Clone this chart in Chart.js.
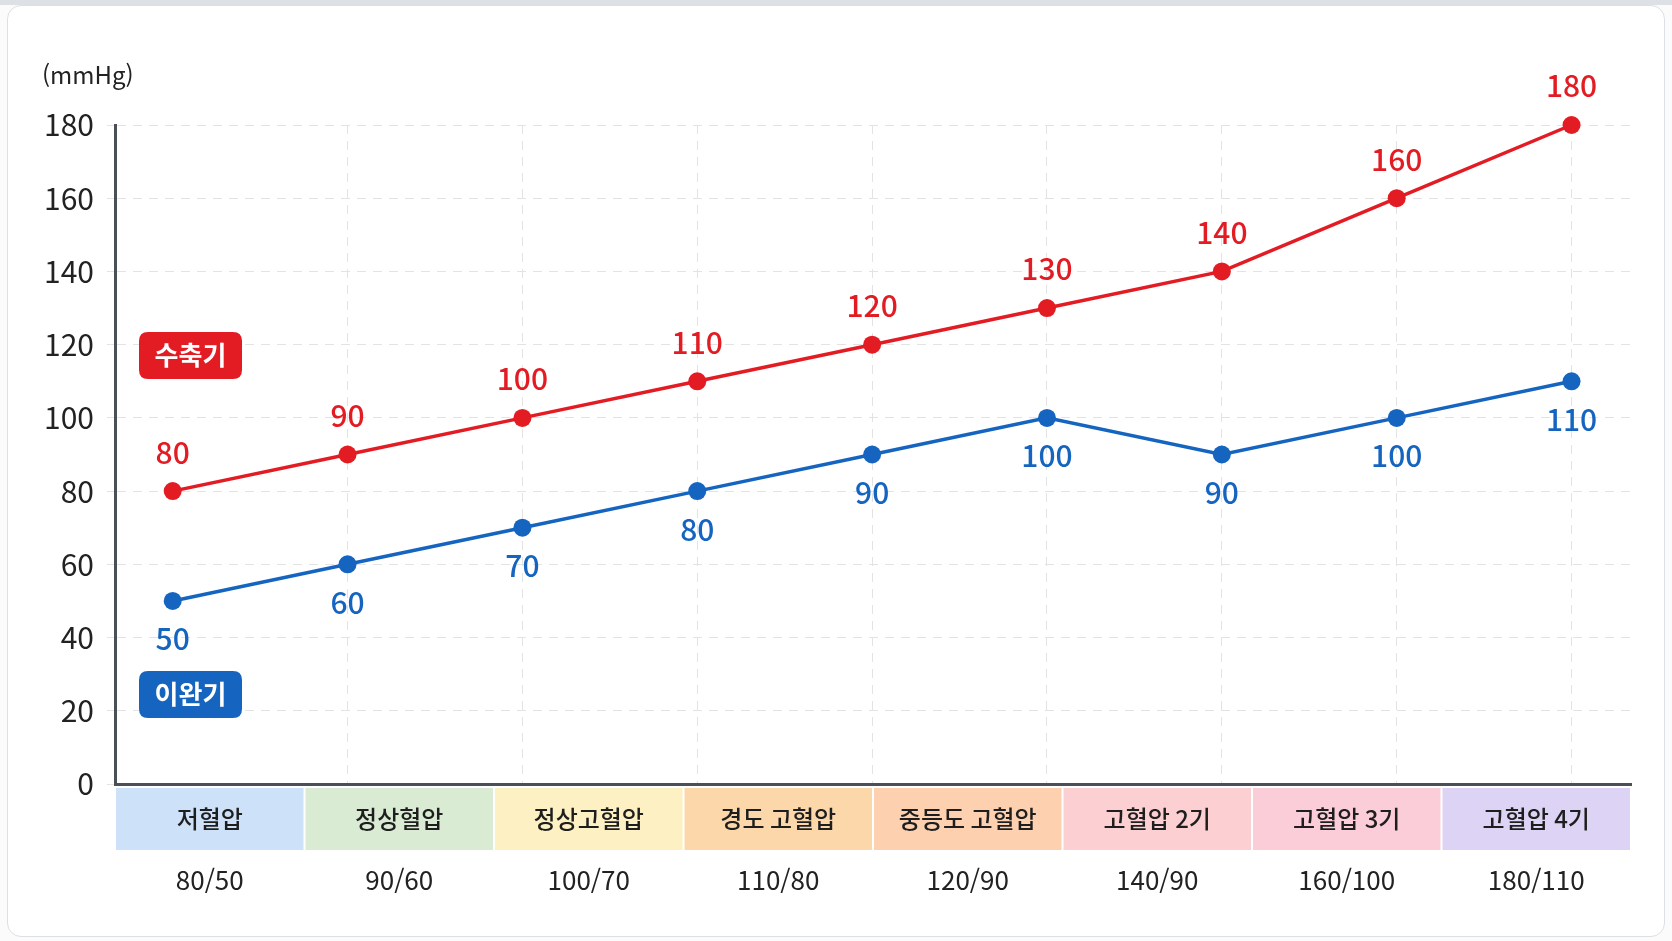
<!DOCTYPE html>
<html lang="ko">
<head>
<meta charset="utf-8">
<title>혈압 단계</title>
<script src="https://cdn.jsdelivr.net/npm/chart.js@4.4.1/dist/chart.umd.min.js"></script>
<style>
html, body { margin: 0; padding: 0; background: #fbfbfc; }
#wrap { position: relative; width: 1672px; height: 941px; overflow: hidden; }
#topbar { position: absolute; left: 0; top: 0; width: 1672px; height: 5px; background: #dde0e4; }
#card { position: absolute; left: 7px; top: 5px; width: 1658px; height: 932px; box-sizing: border-box;
        border: 1.5px solid #dcdfe3; border-radius: 14px; background: #fff; }
#grafico { position: absolute; left: 0; top: 0; }
</style>
</head>
<body>
<div id="wrap">
  <div id="topbar"></div>
  <div id="card"></div>
  <canvas id="grafico" width="1672" height="941"></canvas>
</div>
<script>
// categorias (bandas de abajo)
var stages = ['저혈압', '정상혈압', '정상고혈압', '경도 고혈압', '중등도 고혈압', '고혈압 2기', '고혈압 3기', '고혈압 4기'];
var ranges = ['80/50', '90/60', '100/70', '110/80', '120/90', '140/90', '160/100', '180/110'];
var stageColors = ['#cde2f8', '#d9ecd3', '#fdf0c2', '#fcd7aa', '#fdd0b0', '#fcd0d3', '#fbcdd9', '#dcd3f5'];

// series
var systolic = [80, 90, 100, 110, 120, 130, 140, 160, 180];
var diastolic = [50, 60, 70, 80, 90, 100, 90, 100, 110];
var yTicks = [0, 20, 40, 60, 80, 100, 120, 140, 160, 180];

var RED = '#e31c24';
var BLUE = '#1565c0';
var FONT = '"Noto Sans CJK KR", "Noto Sans", sans-serif';

function toPoints(arr){
    var out = [];
    for (var i = 0; i < arr.length; i++) {
        out.push({x: i, y: arr[i]});
    }
    return out;
}

function roundRect(ctx, x, y, w, h, r){
    ctx.beginPath();
    ctx.moveTo(x + r, y);
    ctx.lineTo(x + w - r, y);
    ctx.quadraticCurveTo(x + w, y, x + w, y + r);
    ctx.lineTo(x + w, y + h - r);
    ctx.quadraticCurveTo(x + w, y + h, x + w - r, y + h);
    ctx.lineTo(x + r, y + h);
    ctx.quadraticCurveTo(x, y + h, x, y + h - r);
    ctx.lineTo(x, y + r);
    ctx.quadraticCurveTo(x, y, x + r, y);
    ctx.closePath();
}

var bandas = {
    id: 'bandas',
    beforeDraw: function(chart){
        var ctx = chart.ctx;
        var sx = chart.scales.band;
        var w = (sx.right - sx.left) / stages.length;
        ctx.save();
        ctx.textAlign = 'center';
        ctx.textBaseline = 'middle';
        ctx.font = '500 24px ' + FONT;
        for (var i = 0; i < stages.length; i++) {
            var cx = sx.getPixelForValue(i);
            ctx.fillStyle = stageColors[i];
            ctx.fillRect(cx - w / 2 + 1, sx.top + 4, w - 2, 62);
            ctx.fillStyle = '#1e1e1e';
            ctx.fillText(stages[i], cx, sx.top + 35);
        }
        ctx.restore();
    }
};

var etiquetas = {
    id: 'etiquetas',
    afterDatasetsDraw: function(chart){
        var ctx = chart.ctx;
        ctx.save();
        ctx.textAlign = 'center';
        ctx.textBaseline = 'middle';
        ctx.font = '500 30px ' + FONT;
        chart.data.datasets.forEach(function(ds, d){
            var meta = chart.getDatasetMeta(d);
            var dy = d === 0 ? -39 : 38;
            ctx.fillStyle = ds.borderColor;
            meta.data.forEach(function(pt, i){
                ctx.fillText(String(ds.data[i].y), pt.x, pt.y + dy);
            });
        });
        ctx.restore();
    },
    afterDraw: function(chart){
        var ctx = chart.ctx;
        var area = chart.chartArea;
        ctx.save();
        // unidad
        ctx.fillStyle = '#222';
        ctx.font = '24px ' + FONT;
        ctx.textAlign = 'left';
        ctx.textBaseline = 'middle';
        ctx.fillText('(mmHg)', 42, 75);
        // badges
        var badges = [
            {text: chart.data.datasets[0].label, color: RED, top: area.top + 207},
            {text: chart.data.datasets[1].label, color: BLUE, top: area.top + 546}
        ];
        ctx.font = 'bold 26px ' + FONT;
        ctx.textAlign = 'center';
        badges.forEach(function(b){
            var x = area.left + 24;
            ctx.fillStyle = b.color;
            roundRect(ctx, x, b.top, 103, 47, 9);
            ctx.fill();
            ctx.fillStyle = '#fff';
            ctx.fillText(b.text, x + 51.5, b.top + 23);
        });
        ctx.restore();
    }
};

var ctx = document.getElementById('grafico');
var myChart = new Chart(ctx, {
    type: 'line',
    data: {
        labels: ranges,
        datasets: [{
            label: '수축기',
            data: toPoints(systolic),
            borderColor: RED,
            backgroundColor: RED,
            borderWidth: 3.5,
            pointRadius: 9,
            pointBorderWidth: 0,
            tension: 0,
            clip: false,
            xAxisID: 'x',
            yAxisID: 'y'
        }, {
            label: '이완기',
            data: toPoints(diastolic),
            borderColor: BLUE,
            backgroundColor: BLUE,
            borderWidth: 3.5,
            pointRadius: 9,
            pointBorderWidth: 0,
            tension: 0,
            clip: false,
            xAxisID: 'x',
            yAxisID: 'y'
        }]
    },
    options: {
        responsive: false,
        animation: false,
        layout: { padding: { left: 43, right: 41, top: 125, bottom: 0 } },
        plugins: {
            legend: { display: false },
            tooltip: { enabled: false }
        },
        scales: {
            x: {
                type: 'linear',
                position: 'top',
                min: -0.33,
                max: 8.34,
                afterBuildTicks: function(scale){
                    scale.ticks = [1, 2, 3, 4, 5, 6, 7, 8].map(function(v){ return {value: v}; });
                },
                ticks: { display: false },
                grid: { color: '#e3e3e3', lineWidth: 1, drawTicks: false },
                border: { display: false, dash: [9, 7] }
            },
            band: {
                type: 'category',
                position: 'bottom',
                labels: ranges,
                offset: true,
                grid: { display: false, drawTicks: false },
                border: { display: true, color: '#4b5058', width: 3 },
                ticks: {
                    color: '#222',
                    font: { family: FONT, size: 26 },
                    padding: 81,
                    maxRotation: 0,
                    autoSkip: false
                },
                afterFit: function(scale){
                    scale.height = 157;
                    scale.paddingLeft = 0;
                    scale.paddingRight = 0;
                }
            },
            y: {
                type: 'linear',
                position: 'left',
                min: 0,
                max: 180,
                afterBuildTicks: function(scale){
                    scale.ticks = yTicks.map(function(v){ return {value: v}; });
                },
                ticks: {
                    color: '#222',
                    font: { family: FONT, size: 30 },
                    padding: 13
                },
                grid: { color: '#e3e3e3', lineWidth: 1, drawTicks: true, tickLength: 8 },
                border: { display: true, color: '#4b5058', width: 3, dash: [9, 7] },
                afterFit: function(scale){
                    scale.width = 72;
                    scale.paddingTop = 0;
                    scale.paddingBottom = 0;
                }
            }
        }
    },
    plugins: [bandas, etiquetas]
});
</script>
</body>
</html>
